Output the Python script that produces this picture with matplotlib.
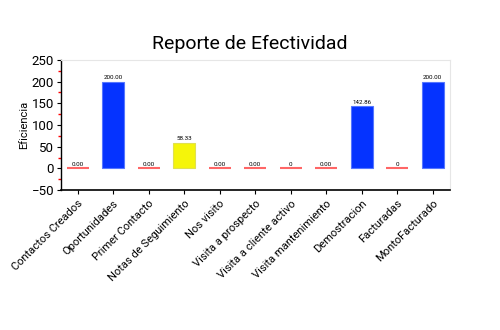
import matplotlib
matplotlib.use("Agg")
import matplotlib.pyplot as plt
from matplotlib.ticker import MultipleLocator, FixedLocator

categories = ["Contactos Creados", "Oportunidades", "Primer Contacto", "Notas de Seguimiento",
              "Nos visito", "Visita a prospecto", "Visita a cliente activo", "Visita mantenimiento",
              "Demostracion", "Facturadas", "MontoFacturado"]
values = [0, 200, 0, 58.33, 0, 0, 0, 0, 142.86, 0, 200]
value_labels = ["0.00", "200.00", "0.00", "58.33", "0.00", "0.00", "0", "0.00", "142.86", "0", "200.00"]
bar_colors = ["#ff6666", "#0533ff", "#ff6666", "#f5f50a", "#ff6666", "#ff6666", "#ff6666",
              "#ff6666", "#0533ff", "#ff6666", "#0533ff"]

FAM = ["Roboto", "DejaVu Sans"]
plt.rcParams['font.family'] = FAM
fig = plt.figure(figsize=(5, 3.3), dpi=100)
ax = fig.add_axes([61/500, 1-190/330, (450-61)/500, (190-60)/330])

x = list(range(len(categories)))
w = 0.62
for xi, v, c, lab in zip(x, values, bar_colors, value_labels):
    if v == 0:
        ax.hlines(v, xi - w/2, xi + w/2, colors=c, linewidth=1.5)
    else:
        ax.bar(xi, v, width=w, color=c, edgecolor="#5577ff" if c == "#0533ff" else "#e0e050", linewidth=0.8)
    ax.text(xi, v + 4, lab, ha="center", va="bottom", fontsize=4.5, color="black")

ax.set_xlim(-0.47, 10.49)
ax.set_ylim(-50, 250)
ax.set_xticks(x)
ax.yaxis.set_major_locator(MultipleLocator(50))
ax.yaxis.set_minor_locator(FixedLocator([-25, 25, 75, 125, 175, 225]))
ax.tick_params(axis="y", which="minor", length=2, color="red", width=1)
ax.tick_params(axis="y", which="major", length=3, width=0.8, labelsize=9.5, pad=2)
ax.tick_params(axis="x", which="major", length=3, width=0.8, pad=3)
ax.set_xticklabels(categories, rotation=45, ha="right", rotation_mode="anchor", fontsize=8)
ax.set_ylabel("Eficiencia", fontsize=8, labelpad=2)

for s in ["top", "right"]:
    ax.spines[s].set_color("#e6e6e6")
ax.spines["left"].set_color("black")
ax.spines["bottom"].set_color("black")
ax.spines["left"].set_linewidth(1)
ax.spines["bottom"].set_linewidth(1.2)

fig.text(250/500, 1-44/330, "Reporte de Efectividad", ha="center", va="center", fontsize=14)

fig.savefig("out.png", dpi=100)
